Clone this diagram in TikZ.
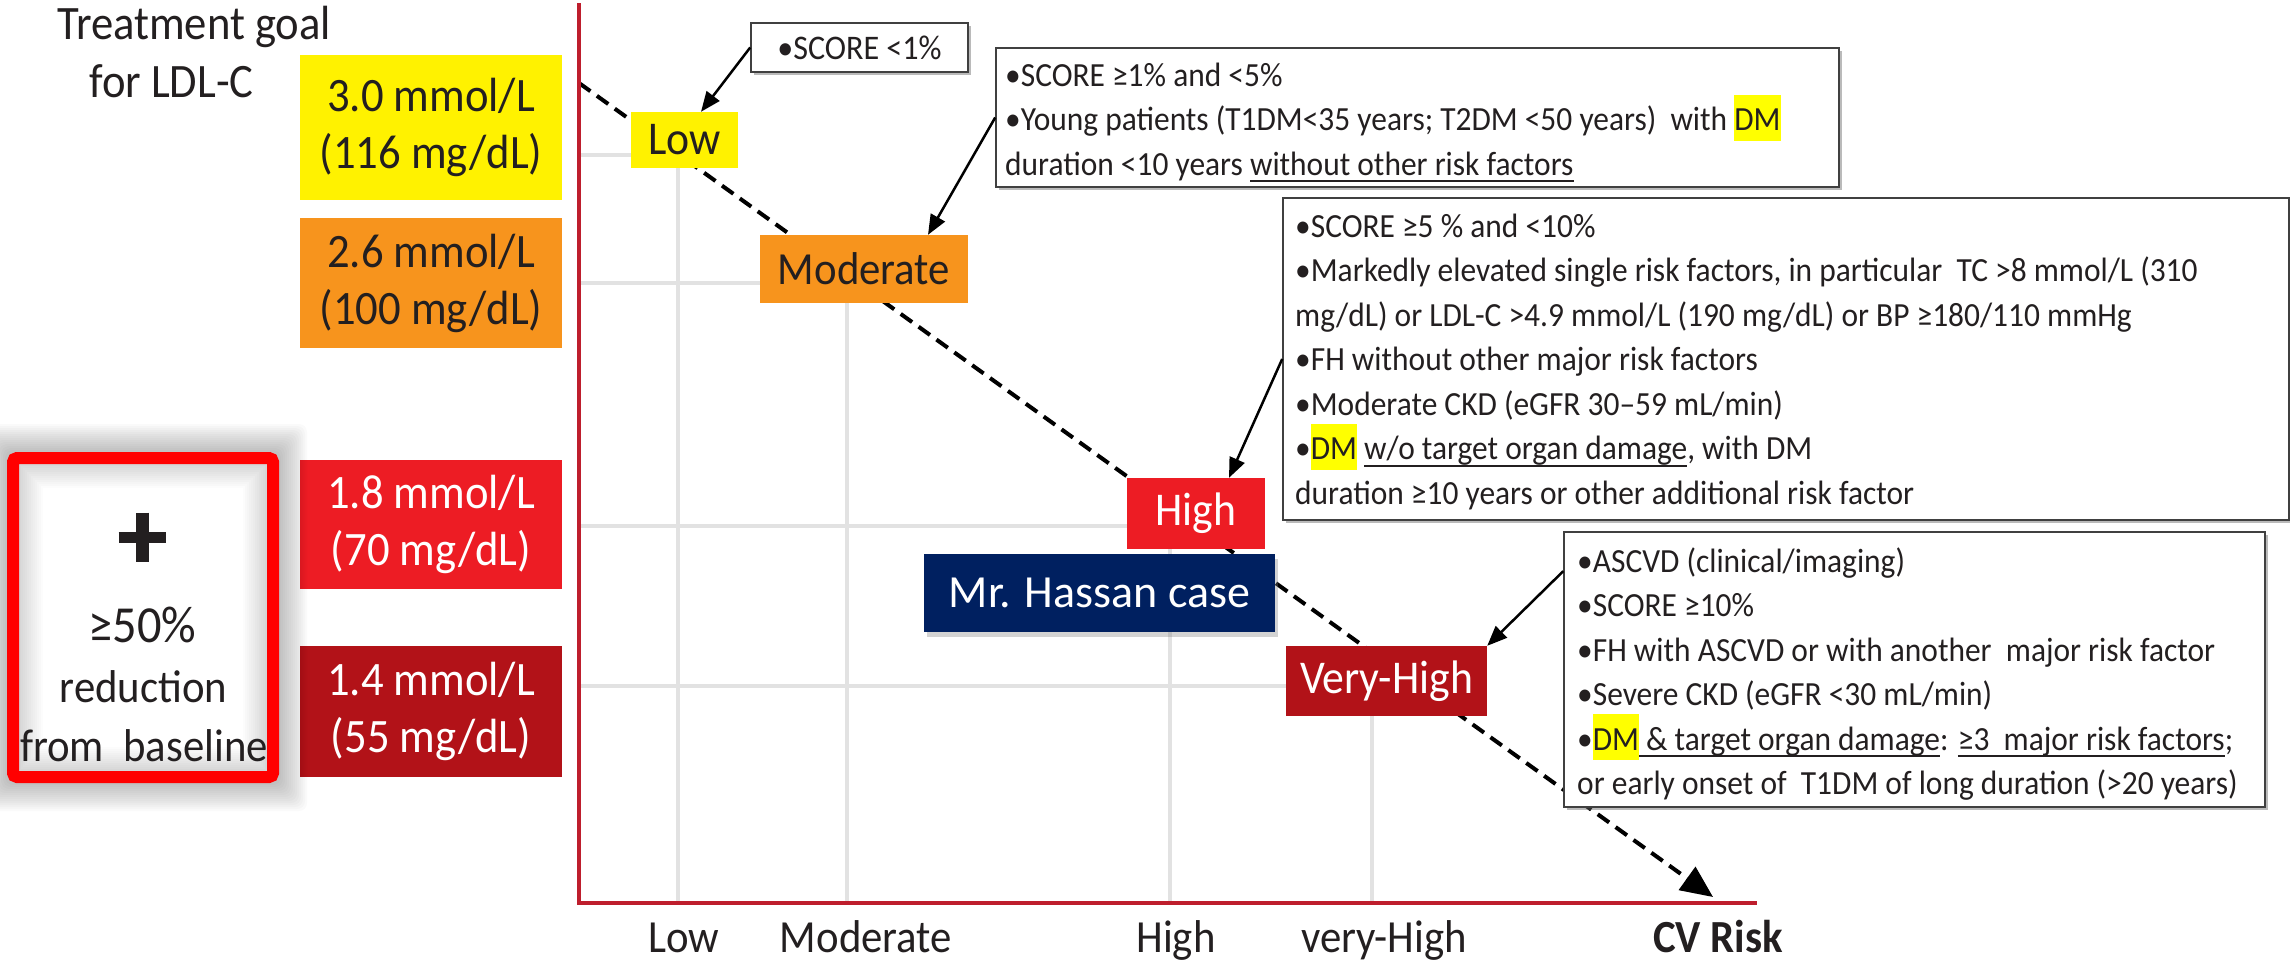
\documentclass[tikz,border=0pt]{standalone}
\usepackage{fontspec}
\setmainfont{Carlito}[FakeStretch=0.93]
\newfontfamily\plainfont{Carlito}
\usetikzlibrary{arrows.meta,shadows,calc}
\definecolor{cyel}{RGB}{255,242,0}
\definecolor{corange}{RGB}{247,148,29}
\definecolor{cred}{RGB}{237,28,36}
\definecolor{cdred}{RGB}{178,18,24}
\definecolor{caxis}{RGB}{190,30,45}
\definecolor{cnavy}{RGB}{0,32,96}
\definecolor{cgrid}{RGB}{226,226,226}
\definecolor{ctxt}{RGB}{35,31,32}
\definecolor{hly}{RGB}{255,255,0}
\newcommand\hlt[1]{\smash{\setlength{\fboxsep}{0pt}\colorbox{hly}{\rule[-10pt]{0pt}{46pt}#1}}}
\newcommand\ulx[1]{\setbox0\hbox{#1}\rlap{\rule[-7pt]{\wd0}{2pt}}\box0}
\begin{document}
\begin{tikzpicture}[x=1pt,y=-1pt,
  every node/.style={inner sep=0pt, text=ctxt},
  goalbox/.style={minimum width=262pt, align=center, font=\fontsize{48}{57}\selectfont},
  critbox/.style={draw=black!75, line width=1.6pt, fill=white,
    drop shadow={shadow xshift=2.5pt, shadow yshift=-2.5pt, opacity=0.45, fill=black!60}},
  crittext/.style={anchor=north west, align=left, font=\fontsize{33.8}{44.5}\selectfont},
  gridline/.style={draw=cgrid, line width=4pt},
  axisline/.style={draw=caxis, line width=4.5pt},
  trend/.style={draw=black, line width=4pt, dash pattern=on 14pt off 8pt, -{Triangle[length=32pt,width=28pt]}},
  callout/.style={draw=black, line width=2.5pt, -{Triangle[length=20pt,width=16pt]}},
  axislabel/.style={anchor=base, font=\fontsize{46}{50}\selectfont},
  leftlabel/.style={anchor=base, font=\fontsize{46}{50}\selectfont},
  risklabel/.style={font=\fontsize{47}{50}\selectfont},
]
\useasboundingbox (0,0) rectangle (2290,961);

% grid lines
\draw[gridline] (579,155) -- (631,155);
\draw[gridline] (579,283) -- (760,283);
\draw[gridline] (579,526) -- (1127,526);
\draw[gridline] (579,686) -- (1286,686);
\draw[gridline] (678,168) -- (678,903);
\draw[gridline] (847,303) -- (847,903);
\draw[gridline] (1170,549) -- (1170,903);
\draw[gridline] (1372,716) -- (1372,903);

% trend line
\coordinate (ts) at (579,83);
\coordinate (te) at (1713,897);
\draw[trend] (ts) -- (te);

% axes
\draw[axisline, line join=miter] (579,3) -- (579,903) -- (1757,903);

% left titles
\node[anchor=base, font=\fontsize{48}{50}\selectfont] (title1) at (194,39) {Treatment goal};
\node[anchor=base, font=\fontsize{48}{50}\selectfont] (title2) at (171.5,97) {for LDL-C};

% goal boxes
\node[goalbox, fill=cyel, minimum height=145pt] (g1) at (431,127.5) {3.0 mmol/L\\(116 mg/dL)};
\node[goalbox, fill=corange, minimum height=130pt] (g2) at (431,283) {2.6 mmol/L\\(100 mg/dL)};
\node[goalbox, fill=cred, text=white, minimum height=129pt] (g3) at (431,524.5) {1.8 mmol/L\\(70 mg/dL)};
\node[goalbox, fill=cdred, text=white, minimum height=131pt] (g4) at (431,711.5) {1.4 mmol/L\\(55 mg/dL)};

% glowing red box
\foreach \i in {1,...,14} {
  \fill[black, opacity=0.018, rounded corners=8pt] (13-6-2*\i,458-6-2*\i) rectangle (273+6+2*\i,777+6+2*\i);
}
\foreach \i in {0,...,12} {
  \pgfmathsetmacro\cc{16*(1-\i/12)}
  \fill[black!\cc] (19+2*\i,464+2*\i) rectangle (267-2*\i,771-2*\i);
}
\draw[red, line width=12pt, rounded corners=4pt] (13,458) rectangle (273,777);
\draw[ctxt, line width=11pt] (118.5,537) -- (165.5,537);
\draw[ctxt, line width=13pt] (142,512.5) -- (142,561.5);
\node[anchor=base, font=\fontsize{52}{50}\selectfont] (pct) at (142.5,642) {≥50\%};
\node[leftlabel] (red1) at (143.5,702) {reduction};
\node[leftlabel] (red2) at (144,761) {from\ \ baseline};

% risk boxes
\node[risklabel, fill=cyel, minimum width=107pt, minimum height=56pt] (low) at (684.5,140) {Low};
\node[fill=corange, minimum width=208pt, minimum height=68pt, font=\fontsize{46}{50}\selectfont] (mod) at (864,269) {Moderate};
\node[risklabel, fill=cred, text=white, minimum width=138pt, minimum height=71pt] (high) at (1196,513.5) {High};
\node[risklabel, fill=cdred, text=white, minimum width=201pt, minimum height=70pt] (vhigh) at (1386.5,681) {Very-High};
\node[fill=cnavy, text=white, minimum width=351pt, minimum height=78pt,
  font=\plainfont\fontsize{46}{50}\selectfont,
  drop shadow={shadow xshift=3pt, shadow yshift=-5pt, opacity=0.35}] (hassan) at (1099.5,593) {Mr. Hassan case};

% criteria boxes
\node[critbox, minimum width=217pt, minimum height=49pt, font=\fontsize{34.5}{40}\selectfont] (b0) at (859.5,47.5) {•SCORE <1\%};
\node[critbox, minimum width=843pt, minimum height=139pt] (b1) at (1417.5,117.5) {};
\node[critbox, minimum width=1006pt, minimum height=322pt] (b2) at (1786,359) {};
\node[critbox, minimum width=701pt, minimum height=275pt] (b3) at (1914.5,669.5) {};

\node[crittext] (t1) at (1005,54.85) {\strut•SCORE ≥1\% and <5\%\\
\strut•Young patients (T1DM<35 years; T2DM <50 years)\ \ with \hlt{DM}\\
\strut duration <10 years \ulx{without other risk factors}};

\node[crittext] (t2) at (1295,205.85) {\strut•SCORE ≥5 \% and <10\%\\
\strut•Markedly elevated single risk factors, in particular\ \ TC >8 mmol/L (310\\
\strut mg/dL) or LDL-C >4.9 mmol/L (190 mg/dL) or BP ≥180/110 mmHg\\
\strut•FH without other major risk factors\\
\strut•Moderate CKD (eGFR 30–59 mL/min)\\
\strut•\hlt{DM} \ulx{w/o target organ damage}, with DM\\
\strut duration ≥10 years or other additional risk factor};

\node[crittext] (t3) at (1577,540.85) {\strut•ASCVD (clinical/imaging)\\
\strut•SCORE ≥10\%\\
\strut•FH with ASCVD or with another\ \ major risk factor\\
\strut•Severe CKD (eGFR <30 mL/min)\\
\strut•\hlt{DM}\ulx{ \& target organ damage}: \ulx{≥3\ \ major risk factors};\\
\strut or early onset of\ \ T1DM of long duration (>20 years)};

% callout arrows
\draw[callout] (b0.west) -- ($(low.north)+(16.5,0)$);
\draw[callout] (b1.west) -- ($(mod.north)+(64,0)$);
\draw[callout] (b2.west) -- ($(high.north)+(33,0)$);
\draw[callout] ($(b3.north west)+(0,40)$) -- (vhigh.north east);

% axis labels
\node[axislabel] (xl1) at (684,952) {Low};
\node[axislabel] (xl2) at (866,952) {Moderate};
\node[axislabel] (xl3) at (1176,952) {High};
\node[axislabel] (xl4) at (1384,952) {very-High};
\node[axislabel, font=\bfseries\fontsize{46}{50}\selectfont] (xl5) at (1718,952) {CV Risk};
\end{tikzpicture}
\end{document}
